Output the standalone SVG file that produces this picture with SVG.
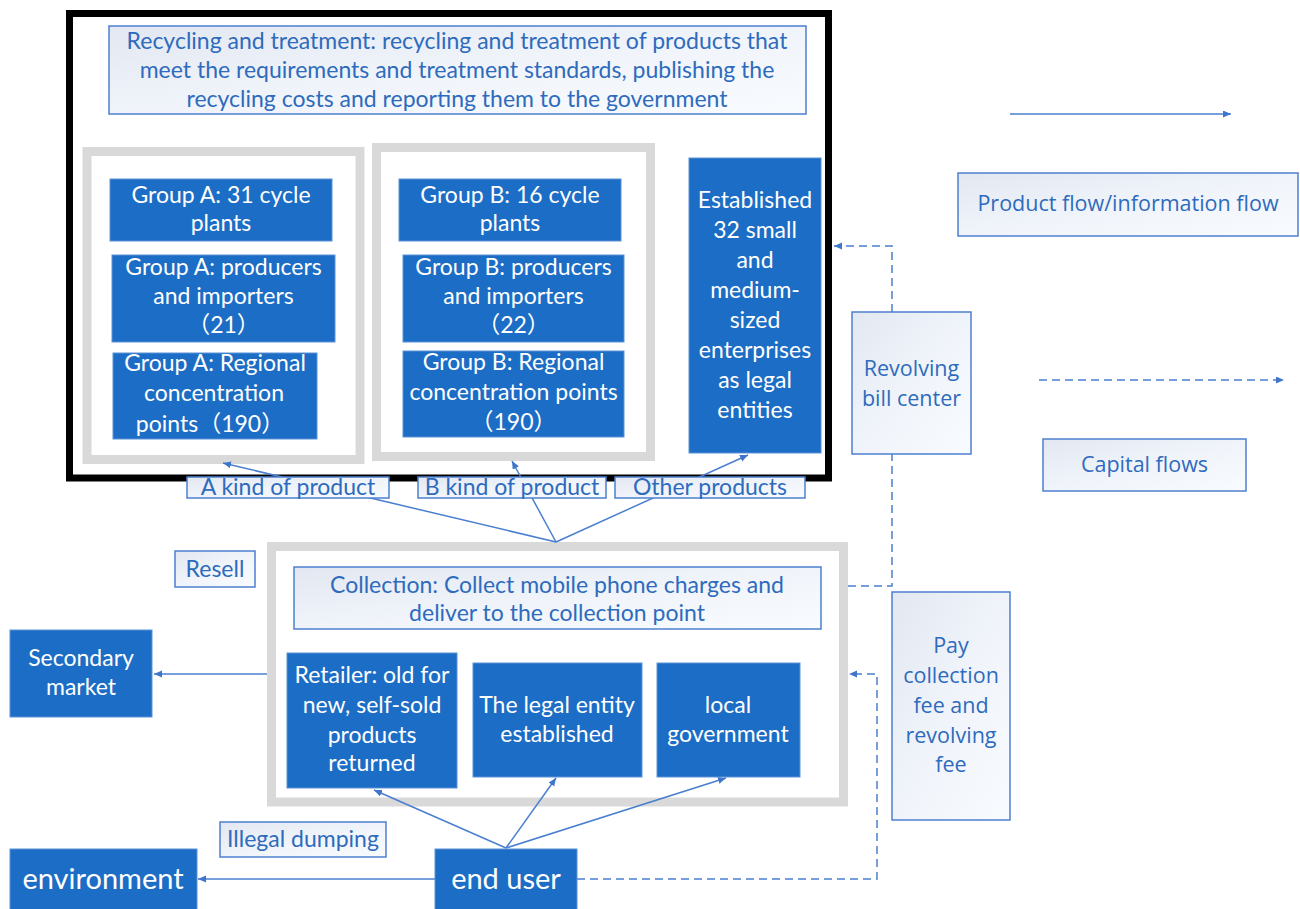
<svg xmlns="http://www.w3.org/2000/svg" width="1300" height="909" viewBox="0 0 1300 909">
  <defs>
    <linearGradient id="pale" x1="0" y1="0" x2="1" y2="1">
      <stop offset="0" stop-color="#e3e7f1"/>
      <stop offset="0.55" stop-color="#f1f5fb"/>
      <stop offset="1" stop-color="#f8fcff"/>
    </linearGradient>
    <marker id="arrow" markerUnits="userSpaceOnUse" markerWidth="9" markerHeight="8" refX="8" refY="3.5" orient="auto">
      <path d="M0,0 L8,3.5 L0,7 z" fill="#3f76cc"/>
    </marker>
    <style>
      .blue { fill: #1c6dc5; stroke: #5a92d6; stroke-width: 1; }
      .pale { fill: url(#pale); stroke: #4d80d0; stroke-width: 1.5; }
      .tray { fill: #ffffff; stroke: #d9d9d9; stroke-width: 9; }
      .wt { font-family: Lato, "Noto Sans CJK SC", sans-serif; font-size: 23px; fill: #ffffff; text-anchor: middle; }
      .bt { font-family: Lato, "Noto Sans CJK SC", sans-serif; font-size: 23px; fill: #2e6bbd; text-anchor: middle; }
      .st { font-family: "Open Sans", sans-serif; font-size: 21.5px; fill: #2e6bbd; text-anchor: middle; }
      .big { font-size: 29px; }
      .ln { fill: none; stroke: #4a7fd0; stroke-width: 1.5; }
      .dash { stroke-dasharray: 8 5; }
    </style>
  </defs>
  <rect width="1300" height="909" fill="#ffffff"/>

  <!-- recycling and treatment frame -->
  <g id="recycling-frame">
    <rect x="69.5" y="13.5" width="759" height="464.5" fill="#ffffff" stroke="#000000" stroke-width="7"/>
  </g>
  <g id="group-a-tray"><rect class="tray" x="87" y="151.5" width="273" height="308"/></g>
  <g id="group-b-tray"><rect class="tray" x="376.5" y="147.5" width="274" height="309"/></g>
  <g id="collection-tray"><rect class="tray" x="271.5" y="546.5" width="572" height="255.5"/></g>

  <!-- connectors -->
  <g id="connectors">
    <line class="ln" x1="556" y1="542" x2="223" y2="463" marker-end="url(#arrow)"/>
    <line class="ln" x1="556" y1="542" x2="512" y2="461" marker-end="url(#arrow)"/>
    <line class="ln" x1="556" y1="542" x2="748" y2="455" marker-end="url(#arrow)"/>
    <line class="ln" x1="267" y1="674" x2="154" y2="674" marker-end="url(#arrow)"/>
    <line class="ln" x1="435" y1="879" x2="198" y2="879" marker-end="url(#arrow)"/>
    <line class="ln" x1="506" y1="848" x2="374" y2="790" marker-end="url(#arrow)"/>
    <line class="ln" x1="506" y1="848" x2="556" y2="778" marker-end="url(#arrow)"/>
    <line class="ln" x1="506" y1="848" x2="726" y2="778" marker-end="url(#arrow)"/>
    <polyline class="ln dash" points="577,879 877,879 877,674 849,674" marker-end="url(#arrow)"/>
    <polyline class="ln dash" points="848,586 892,586 892,454"/>
    <polyline class="ln dash" points="892,312 892,246 834,246" marker-end="url(#arrow)"/>
    <line class="ln" x1="1010" y1="114" x2="1231" y2="114" marker-end="url(#arrow)"/>
    <line class="ln dash" x1="1039" y1="380" x2="1284" y2="380" marker-end="url(#arrow)"/>
  </g>

  <g id="recycling-header">
    <rect class="pale" x="109" y="26" width="697" height="88"/>
    <text class="bt" x="457" y="49">Recycling and treatment: recycling and treatment of products that</text>
    <text class="bt" x="457" y="78">meet the requirements and treatment standards, publishing the</text>
    <text class="bt" x="457" y="107">recycling costs and reporting them to the government</text>
  </g>

  <g id="group-a-plants">
    <rect class="blue" x="110" y="179" width="222" height="62"/>
    <text class="wt" x="221" y="203">Group A: 31 cycle</text>
    <text class="wt" x="221" y="231">plants</text>
  </g>
  <g id="group-a-producers">
    <rect class="blue" x="112" y="255" width="223" height="87"/>
    <text class="wt" x="223.5" y="275">Group A: producers</text>
    <text class="wt" x="223.5" y="304">and importers</text>
    <text class="wt" x="223.5" y="333">（21）</text>
  </g>
  <g id="group-a-points">
    <rect class="blue" x="113" y="353" width="204" height="86"/>
    <text class="wt" x="215" y="371">Group A: Regional</text>
    <text class="wt" x="214" y="401">concentration</text>
    <text class="wt" x="210" y="432">points（190）</text>
  </g>

  <g id="group-b-plants">
    <rect class="blue" x="399" y="179" width="222" height="62"/>
    <text class="wt" x="510" y="203">Group B: 16 cycle</text>
    <text class="wt" x="510" y="231">plants</text>
  </g>
  <g id="group-b-producers">
    <rect class="blue" x="403" y="255" width="221" height="87"/>
    <text class="wt" x="513.5" y="275">Group B: producers</text>
    <text class="wt" x="513.5" y="304">and importers</text>
    <text class="wt" x="513.5" y="333">（22）</text>
  </g>
  <g id="group-b-points">
    <rect class="blue" x="403" y="351" width="221" height="86"/>
    <text class="wt" x="513.5" y="370">Group B: Regional</text>
    <text class="wt" x="513.5" y="400">concentration points</text>
    <text class="wt" x="513.5" y="430">（190）</text>
  </g>

  <g id="sme-entities">
    <rect class="blue" x="689" y="158" width="132" height="295"/>
    <text class="wt" x="755" y="208">Established</text>
    <text class="wt" x="755" y="238">32 small</text>
    <text class="wt" x="755" y="268">and</text>
    <text class="wt" x="755" y="298">medium-</text>
    <text class="wt" x="755" y="328">sized</text>
    <text class="wt" x="755" y="358">enterprises</text>
    <text class="wt" x="755" y="388">as legal</text>
    <text class="wt" x="755" y="418">entities</text>
  </g>

  <g id="label-a">
    <rect class="pale" x="187" y="477" width="202" height="21"/>
    <text class="bt" x="288" y="495">A kind of product</text>
  </g>
  <g id="label-b">
    <rect class="pale" x="418" y="477" width="188" height="21"/>
    <text class="bt" x="512" y="495">B kind of product</text>
  </g>
  <g id="label-other">
    <rect class="pale" x="615" y="477" width="190" height="21"/>
    <text class="bt" x="710" y="495">Other products</text>
  </g>

  <g id="collection-header">
    <rect class="pale" x="294" y="567" width="527" height="62"/>
    <text class="bt" x="557" y="593">Collection: Collect mobile phone charges and</text>
    <text class="bt" x="557" y="621">deliver to the collection point</text>
  </g>
  <g id="retailer">
    <rect class="blue" x="287" y="653" width="170" height="135"/>
    <text class="wt" x="372" y="683">Retailer: old for</text>
    <text class="wt" x="372" y="713">new, self-sold</text>
    <text class="wt" x="372" y="743">products</text>
    <text class="wt" x="372" y="771">returned</text>
  </g>
  <g id="legal-entity">
    <rect class="blue" x="473" y="663" width="169" height="114"/>
    <text class="wt" x="557" y="713">The legal entity</text>
    <text class="wt" x="557" y="742">established</text>
  </g>
  <g id="local-government">
    <rect class="blue" x="657" y="663" width="143" height="114"/>
    <text class="wt" x="728" y="713">local</text>
    <text class="wt" x="728" y="742">government</text>
  </g>

  <g id="resell">
    <rect class="pale" x="175" y="551" width="80" height="36"/>
    <text class="bt" x="215" y="577">Resell</text>
  </g>
  <g id="secondary-market">
    <rect class="blue" x="10" y="630" width="142" height="87"/>
    <text class="wt" x="81" y="666">Secondary</text>
    <text class="wt" x="81" y="695">market</text>
  </g>
  <g id="illegal-dumping">
    <rect class="pale" x="220" y="822" width="166" height="35"/>
    <text class="bt" x="303" y="847">Illegal dumping</text>
  </g>
  <g id="environment">
    <rect class="blue" x="10" y="849" width="187" height="64"/>
    <text class="wt big" x="103" y="889">environment</text>
  </g>
  <g id="end-user">
    <rect class="blue" x="435" y="849" width="142" height="64"/>
    <text class="wt big" x="506" y="889">end user</text>
  </g>

  <g id="revolving-bill-center">
    <rect class="pale" x="852" y="312" width="119" height="142"/>
    <text class="st" x="911.5" y="376">Revolving</text>
    <text class="st" x="911.5" y="406">bill center</text>
  </g>
  <g id="pay-fee">
    <rect class="pale" x="892" y="592" width="118" height="228"/>
    <text class="st" x="951" y="653">Pay</text>
    <text class="st" x="951" y="683">collection</text>
    <text class="st" x="951" y="713">fee and</text>
    <text class="st" x="951" y="743">revolving</text>
    <text class="st" x="951" y="772">fee</text>
  </g>

  <g id="legend-product">
    <rect class="pale" x="958" y="173" width="340" height="63"/>
    <text class="st" x="1128" y="211">Product flow/information flow</text>
  </g>
  <g id="legend-capital">
    <rect class="pale" x="1043" y="439" width="203" height="52"/>
    <text class="st" x="1144.5" y="472">Capital flows</text>
  </g>
</svg>
